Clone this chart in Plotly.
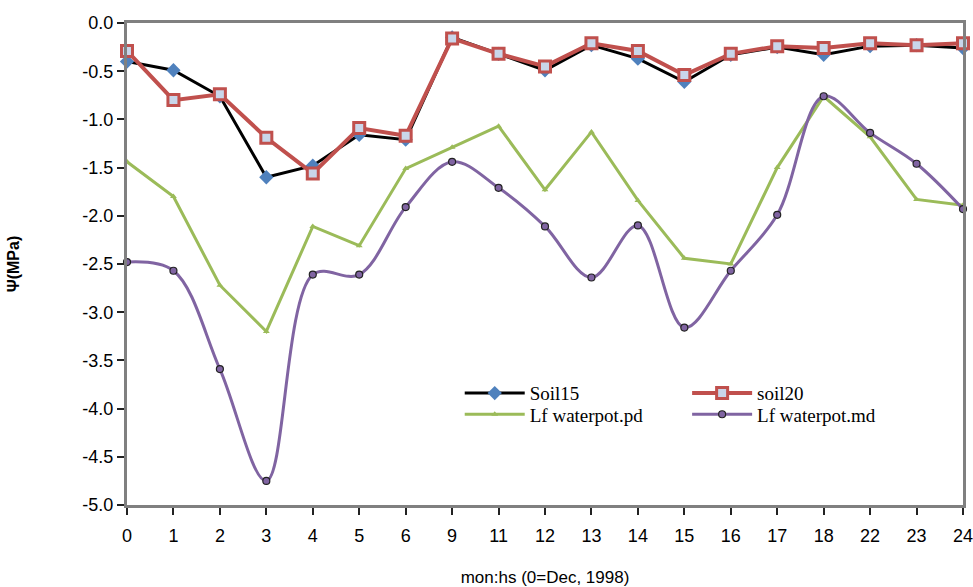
import plotly.graph_objects as go

months = ["0", "1", "2", "3", "4", "5", "6", "9", "11", "12", "13", "14", "15", "16", "17", "18", "22", "23", "24"]

soil15 = [-0.40, -0.49, -0.76, -1.60, -1.48, -1.16, -1.21, -0.15, -0.32, -0.49,
          -0.23, -0.37, -0.61, -0.33, -0.25, -0.33, -0.24, -0.23, -0.26]
soil20 = [-0.29, -0.80, -0.74, -1.19, -1.56, -1.09, -1.17, -0.16, -0.32, -0.45,
          -0.21, -0.29, -0.54, -0.32, -0.24, -0.26, -0.21, -0.23, -0.21]
lf_pd = [-1.44, -1.80, -2.72, -3.20, -2.11, -2.31, -1.51, -1.29, -1.07, -1.73,
         -1.13, -1.84, -2.44, -2.50, -1.50, -0.76, -1.18, -1.83, -1.89]
lf_md = [-2.48, -2.57, -3.59, -4.75, -2.61, -2.61, -1.91, -1.44, -1.71, -2.11,
         -2.64, -2.10, -3.16, -2.57, -1.99, -0.76, -1.14, -1.46, -1.93]

y_ticks = [0.0, -0.5, -1.0, -1.5, -2.0, -2.5, -3.0, -3.5, -4.0, -4.5, -5.0]
y_ticktext = ["0.0", "-0.5", "-1.0", "-1.5", "-2.0", "-2.5", "-3.0", "-3.5", "-4.0", "-4.5", "-5.0"]

fig = go.Figure()

fig.add_trace(go.Scatter(
    x=months, y=soil15, name="Soil15", mode="lines+markers",
    line=dict(color="#000000", width=3),
    marker=dict(symbol="diamond", size=11, color="#4F81BD", line=dict(width=0)),
    cliponaxis=False, legend="legend",
))
fig.add_trace(go.Scatter(
    x=months, y=soil20, name="soil20", mode="lines+markers",
    line=dict(color="#C0504D", width=4),
    marker=dict(symbol="square", size=11, color="#C9D6EA", line=dict(color="#C0504D", width=3)),
    cliponaxis=False, legend="legend2",
))
fig.add_trace(go.Scatter(
    x=months, y=lf_pd, name="Lf waterpot.pd", mode="lines+markers",
    line=dict(color="#9BBB59", width=3),
    marker=dict(symbol="triangle-up", size=6, color="#9BBB59", line=dict(width=0)),
    cliponaxis=False, legend="legend3",
))
fig.add_trace(go.Scatter(
    x=months, y=lf_md, name="Lf waterpot.md", mode="lines+markers",
    line=dict(color="#8064A2", width=3, shape="spline", smoothing=1.0),
    marker=dict(symbol="circle", size=7, color="#8064A2", line=dict(color="#222222", width=1.2)),
    cliponaxis=False, legend="legend4",
))

legend_common = dict(
    orientation="v",
    bgcolor="rgba(0,0,0,0)",
    font=dict(family="Liberation Serif, Times New Roman, serif", size=19, color="#000000"),
    itemwidth=60,
    xanchor="left", yanchor="middle",
)

fig.update_layout(
    width=973, height=587,
    margin=dict(l=127, r=10, t=23, b=82, autoexpand=False),
    paper_bgcolor="white", plot_bgcolor="white",
    showlegend=True,
    legend=dict(x=0.398, y=0.232, **legend_common),
    legend2=dict(x=0.670, y=0.232, **legend_common),
    legend3=dict(x=0.398, y=0.188, **legend_common),
    legend4=dict(x=0.670, y=0.188, **legend_common),
    xaxis=dict(
        type="category", categoryorder="array", categoryarray=months,
        range=[0, len(months) - 1],
        showline=True, linecolor="#808080", linewidth=3, mirror=True,
        ticks="outside", ticklen=7, tickwidth=2, tickcolor="#222222",
        ticklabelstandoff=5,
        showgrid=False, zeroline=False, automargin=False,
        tickfont=dict(family="Liberation Sans, Arial, sans-serif", size=18, color="#000000"),
        title=dict(text="mon:hs (0=Dec, 1998)",
                   font=dict(family="Liberation Sans, Arial, sans-serif", size=17, color="#000000"),
                   standoff=27),
    ),
    yaxis=dict(
        range=[-5.0, 0.0],
        tickvals=y_ticks, ticktext=y_ticktext,
        showline=True, linecolor="#808080", linewidth=3, mirror=True,
        ticks="outside", ticklen=7, tickwidth=2, tickcolor="#222222",
        showgrid=False, zeroline=False, automargin=False,
        tickfont=dict(family="Liberation Sans, Arial, sans-serif", size=18, color="#000000"),
        title=dict(text="<b>Ψ(MPa)</b>",
                   font=dict(family="Liberation Sans, Arial, sans-serif", size=16, color="#000000"),
                   standoff=59),
    ),
)

fig.write_html(
    "out.html",
    config={"displayModeBar": False},
    post_script="document.body.style.margin='0';document.body.style.overflow='hidden';",
)
